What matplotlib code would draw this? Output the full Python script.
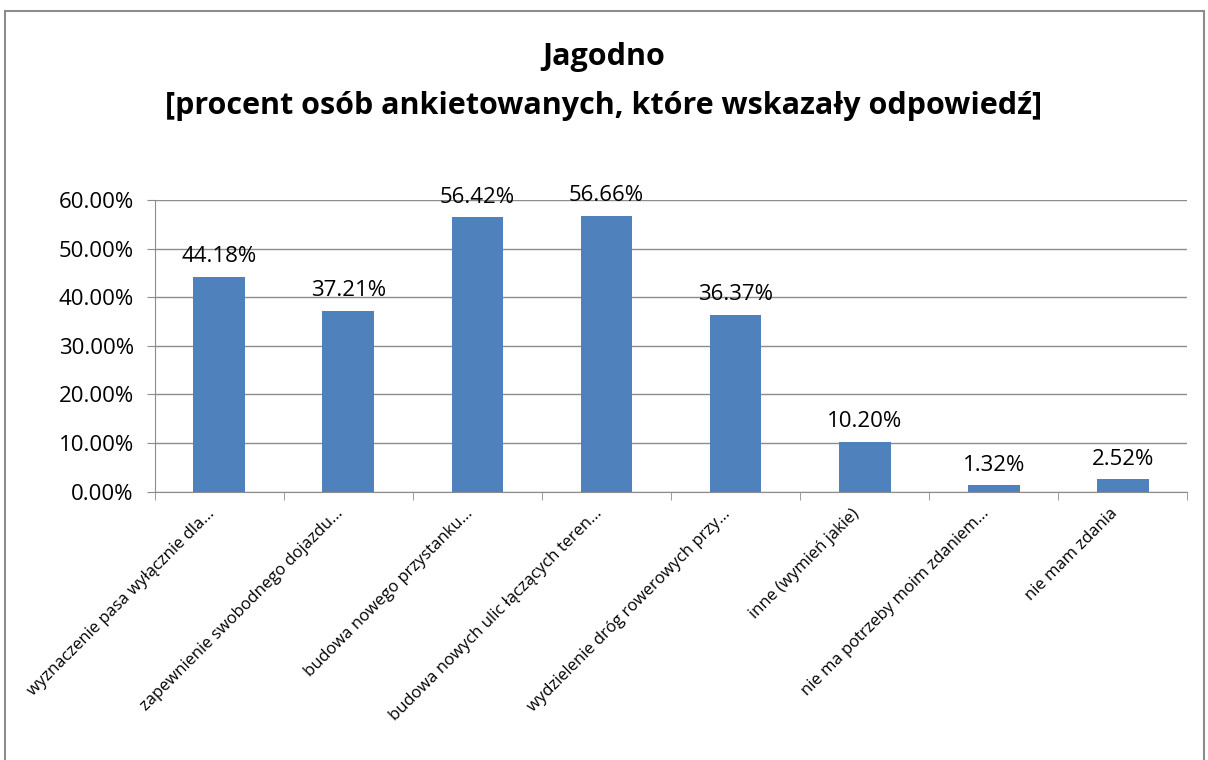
import matplotlib.pyplot as plt
from matplotlib.patches import Rectangle
from matplotlib.ticker import FuncFormatter, FixedLocator

categories = [
    'wyznaczenie pasa wyłącznie dla...',
    'zapewnienie swobodnego dojazdu...',
    'budowa nowego przystanku...',
    'budowa nowych ulic łączących teren...',
    'wydzielenie dróg rowerowych przy...',
    'inne (wymień jakie)',
    'nie ma potrzeby moim zdaniem...',
    'nie mam zdania',
]
values = [0.4418, 0.3721, 0.5642, 0.5666, 0.3637, 0.1020, 0.0132, 0.0252]

plt.rcParams['font.family'] = ['Open Sans', 'DejaVu Sans']

fig = plt.figure(figsize=(12.08, 7.6), dpi=100)
ax = fig.add_axes([0.128, 0.353, 0.855, 0.384])

x = list(range(len(categories)))
ax.bar(x, values, width=0.4, color='#4F81BD', zorder=3)
for xi, v in zip(x, values):
    ax.text(xi, v + 0.02, f'{v * 100:.2f}%', ha='center', va='bottom', fontsize=16)

ax.set_xlim(-0.5, len(categories) - 0.5)
ax.set_ylim(0, 0.6)
ax.set_yticks([i / 10 for i in range(7)])
ax.yaxis.set_major_formatter(FuncFormatter(lambda v, p: f'{v * 100:.2f}%'))
ax.grid(axis='y', color='#8C8C8C', linewidth=1, zorder=0)

# labels anchored slightly left of the bar centre, like the original
ax.set_xticks([xi - 0.1 for xi in x])
ax.set_xticklabels(categories, rotation=45, ha='right', rotation_mode='anchor', fontsize=12)
ax.xaxis.set_minor_locator(FixedLocator([i - 0.5 for i in range(len(categories) + 1)]))
ax.tick_params(axis='x', which='major', length=0, pad=10)
ax.tick_params(axis='x', which='minor', length=6, color='#8C8C8C')
ax.tick_params(axis='y', length=6, color='#8C8C8C', labelsize=16, pad=9)

for side in ['top', 'right']:
    ax.spines[side].set_visible(False)
ax.spines['left'].set_color('#8C8C8C')
ax.spines['bottom'].set_color('#8C8C8C')

fig.text(0.5, 0.925, 'Jagodno', ha='center', va='center', fontsize=22, fontweight='bold')
fig.text(0.5, 0.86, '[procent osób ankietowanych, które wskazały odpowiedź]',
         ha='center', va='center', fontsize=22, fontweight='bold')

fig.patches.append(Rectangle((0.004, -0.05), 0.993, 1.036, transform=fig.transFigure,
                             fill=False, edgecolor='#8C8C8C', linewidth=1.5))

fig.savefig('out.png')
